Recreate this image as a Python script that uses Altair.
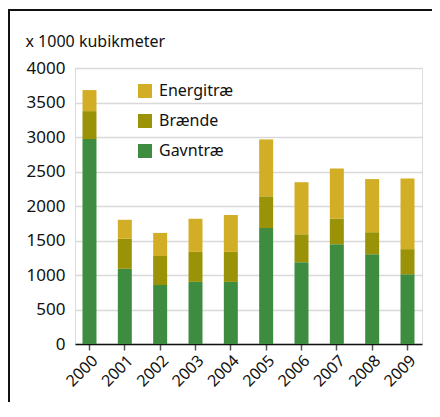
import altair as alt
import pandas as pd

years = ["2000", "2001", "2002", "2003", "2004", "2005", "2006", "2007", "2008", "2009"]
gavntrae = [2970, 1090, 855, 900, 900, 1680, 1185, 1445, 1300, 1010]
braende = [405, 435, 420, 435, 435, 460, 405, 375, 320, 365]
energitrae = [305, 275, 335, 480, 535, 825, 755, 725, 770, 1025]

series = ["Energitræ", "Brænde", "Gavntræ"]
colors = ["#D2AE27", "#9A9307", "#3E8C40"]
stack_rank = {"Gavntræ": 0, "Brænde": 1, "Energitræ": 2}

rows = []
for i, y in enumerate(years):
    for name, vals in (("Gavntræ", gavntrae), ("Brænde", braende), ("Energitræ", energitrae)):
        rows.append({"year": y, "series": name, "value": vals[i], "rank": stack_rank[name]})
df = pd.DataFrame(rows)

FONT = "Noto Sans"

bars = alt.Chart(df).mark_bar().encode(
    x=alt.X("year:N", sort=years,
            scale=alt.Scale(paddingInner=0.604, paddingOuter=0.212),
            axis=alt.Axis(title=None, labelAngle=-45, labelAlign="right", labelBaseline="top",
                          labelFontSize=16, labelFont=FONT, labelColor="#111",
                          labelPadding=2, ticks=True, tickSize=6, tickColor="#555",
                          tickWidth=1.5, domain=True, domainColor="#111", domainWidth=1.5,
                          grid=False)),
    y=alt.Y("value:Q", stack="zero",
            scale=alt.Scale(domain=[0, 4000], nice=False),
            axis=alt.Axis(values=[0, 500, 1000, 1500, 2000, 2500, 3000, 3500, 4000],
                          format="d",
                          title="x 1000 kubikmeter", titleAngle=0, titleX=-50, titleY=-22,
                          titleAlign="left", titleBaseline="alphabetic", titleFontSize=16,
                          titleFont=FONT, titleFontWeight="normal", titleColor="#111",
                          labelFontSize=17, labelFont=FONT, labelColor="#111",
                          labelPadding=10, ticks=False, domain=False,
                          grid=True, gridColor="#d9d9d9", gridWidth=1.5)),
    color=alt.Color("series:N",
                    scale=alt.Scale(domain=series, range=colors),
                    legend=alt.Legend(title=None, orient="none", legendX=62, legendY=15,
                                      symbolType="square", symbolSize=196,
                                      symbolStrokeWidth=0, labelFontSize=16, labelFont=FONT,
                                      labelColor="#111", rowPadding=14, labelOffset=6)),
    order=alt.Order("rank:Q", sort="ascending"),
)

frame_data = alt.Data(values=[{"a": 1}])
left_line = alt.Chart(frame_data).mark_rule(color="#111", strokeWidth=2).encode(
    x=alt.value(-66), y=alt.value(-59), y2=alt.value(334))
top_line = alt.Chart(frame_data).mark_rule(color="#111", strokeWidth=2).encode(
    x=alt.value(-66), x2=alt.value(357), y=alt.value(-58))

chart = alt.layer(bars, left_line, top_line).properties(
    width=347, height=276,
    autosize=alt.AutoSizeParams(type="none"),
    padding={"left": 67, "top": 60, "right": 10, "bottom": 58},
).configure_view(stroke=None).configure(background="white")

chart.save("out.html", embed_options={"renderer": "svg", "actions": False})
